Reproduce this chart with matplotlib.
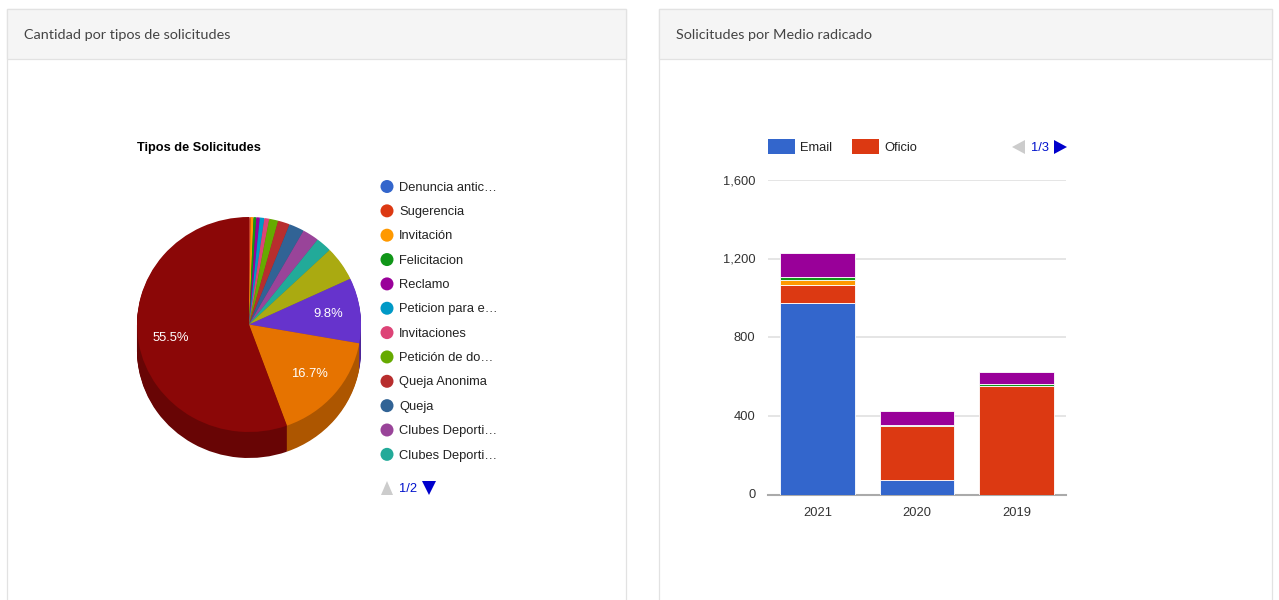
import matplotlib
matplotlib.use("Agg")
import matplotlib.pyplot as plt
from matplotlib.patches import Rectangle, Circle, Polygon
from matplotlib.transforms import ScaledTranslation

W = 1279
H = 600
plt.rcParams['font.family'] = ['Liberation Sans', 'DejaVu Sans']

# pie data, clockwise from 12 o'clock
pie_values = [0.05, 0.2, 0.4, 0.4, 0.5, 0.65, 0.7, 1.3, 1.7, 2.2, 2.4, 2.3, 5.2, 9.8, 16.7, 55.5]
pie_colors = ['#3366cc', '#dc3912', '#ff9900', '#109618', '#990099', '#0099c6', '#dd4477', '#66aa00',
              '#b82e2e', '#316395', '#994499', '#22aa99', '#aaaa11', '#6633cc', '#e67300', '#8b0707']
legend_labels = ['Denuncia antic…', 'Sugerencia', 'Invitación', 'Felicitacion', 'Reclamo', 'Peticion para e…',
                 'Invitaciones', 'Petición de do…', 'Queja Anonima', 'Queja', 'Clubes Deporti…', 'Clubes Deporti…']

# stacked bars
years = ['2021', '2020', '2019']
email = [975, 73, 0]
oficio = [89, 274, 552]
invitacion = [29, 0, 0]
felicitacion = [14, 5, 11]
reclamo = [124, 71, 60]
bar_series = [email, oficio, invitacion, felicitacion, reclamo]
bar_colors = ['#3366cc', '#dc3912', '#ff9900', '#109618', '#990099']
y_ticks = [0, 400, 800, 1200, 1600]


def pixel_axes(fig, left, top, right, bottom):
    return fig.add_axes([left / W, 1 - bottom / H, (right - left) / W, (bottom - top) / H])


def darken(c, f=0.75):
    r, g, b = matplotlib.colors.to_rgb(c)
    return (r * f, g * f, b * f)


fig = plt.figure(figsize=(W / 100, H / 100), dpi=100, facecolor='white')

# background layer in pixel coords for the cards
bg = fig.add_axes([0, 0, 1, 1], zorder=0)
bg.set_xlim(0, W)
bg.set_ylim(H, 0)
bg.axis('off')
for left, right, title in [(7, 626, 'Cantidad por tipos de solicitudes'), (659, 1272, 'Solicitudes por Medio radicado')]:
    bg.add_patch(Rectangle((left, 9), right - left, H + 20, fc='white', ec='#e2e2e2', lw=0.9))
    bg.add_patch(Rectangle((left, 9), right - left, 50, fc='#f5f5f5', ec='#e2e2e2', lw=0.9))
    bg.text(left + 16.5, 35, title, family='Lato', fontsize=10.35, color='#444444', va='center', ha='left')

bg.text(137, 148.5, 'Tipos de Solicitudes', fontsize=9.2, fontweight='bold', color='black', va='center', ha='left')

# pie: stack of dark layers for the side wall then the top face
cx, cy = 249, 324.5
rx, ry = 112, 107.5
depth = 26
pad = 12
pie_ax = pixel_axes(fig, cx - rx - pad, cy - ry - pad, cx + rx + pad, cy + ry + depth + pad)
pie_ax.set_zorder(1)
dark = [darken(c) for c in pie_colors]
for d in range(depth, 0, -1):
    pie_ax.pie(pie_values, colors=dark, startangle=90, counterclock=False, center=(0, -d / ry))
pie_ax.pie(pie_values, colors=pie_colors, startangle=90, counterclock=False,
           autopct=lambda p: '%.1f%%' % p if p > 9 else '', pctdistance=0.71,
           textprops={'color': 'white', 'fontsize': 9.4})
pie_ax.set_aspect('auto')
pie_ax.set_xlim(-1 - pad / rx, 1 + pad / rx)
pie_ax.set_ylim(-1 - (depth + pad) / ry, 1 + pad / ry)

# pie legend
for i, label in enumerate(legend_labels):
    y = 186.5 + i * 24.35
    bg.add_patch(Circle((387, y), 6.5, fc=pie_colors[i], ec='none'))
    bg.text(399, y + 1.2, label, fontsize=9.25, color='#222222', va='center', ha='left')
bg.add_patch(Polygon([(381, 495), (393, 495), (387, 481)], fc='#cccccc', ec='none'))
bg.text(399.5, 489, '1/2', fontsize=9.25, color='#0011cc', va='center', ha='left')
bg.add_patch(Polygon([(422, 481), (436, 481), (429, 495)], fc='#0000cc', ec='none'))

# bars
ax = pixel_axes(fig, 768, 180, 1066, 494.5)
ax.set_zorder(1)
bottom = [0, 0, 0]
for vals, col in zip(bar_series, bar_colors):
    ax.bar(years, vals, width=0.755, bottom=bottom, color=col, edgecolor='white', linewidth=0.6, zorder=3)
    bottom = [b + v for b, v in zip(bottom, vals)]
ax.set_xlim(-0.5, 2.5)
ax.set_ylim(0, 1600)
ax.set_yticks(y_ticks)
ax.set_yticklabels(['{:,}'.format(t) for t in y_ticks])
ax.grid(axis='y', color='#e0e0e0', lw=1.2, zorder=0)
ax.set_axisbelow(True)
for s in ['top', 'right', 'left']:
    ax.spines[s].set_visible(False)
ax.spines['bottom'].set_color('#aaaaaa')
ax.spines['bottom'].set_linewidth(1.5)
ax.tick_params(axis='both', length=0, labelsize=9.3, labelcolor='#333333')
ax.tick_params(axis='y', pad=9)
ax.tick_params(axis='x', pad=9.3)
up = ScaledTranslation(0, 0.5 / 100, fig.dpi_scale_trans)
for lab in ax.get_yticklabels():
    lab.set_transform(lab.get_transform() + up)

# bar legend
bg.add_patch(Rectangle((768, 139), 27, 15, fc='#3366cc', ec='none'))
bg.text(800, 148, 'Email', fontsize=9.25, color='#222222', va='center', ha='left')
bg.add_patch(Rectangle((852, 139), 27, 15, fc='#dc3912', ec='none'))
bg.text(884, 148, 'Oficio', fontsize=9.25, color='#222222', va='center', ha='left')
bg.add_patch(Polygon([(1025, 140), (1025, 154), (1012, 147)], fc='#cccccc', ec='none'))
bg.text(1031, 148, '1/3', fontsize=9.25, color='#0011cc', va='center', ha='left')
bg.add_patch(Polygon([(1054, 140), (1054, 154), (1067, 147)], fc='#0000cc', ec='none'))

fig.savefig('out.png', dpi=100)
